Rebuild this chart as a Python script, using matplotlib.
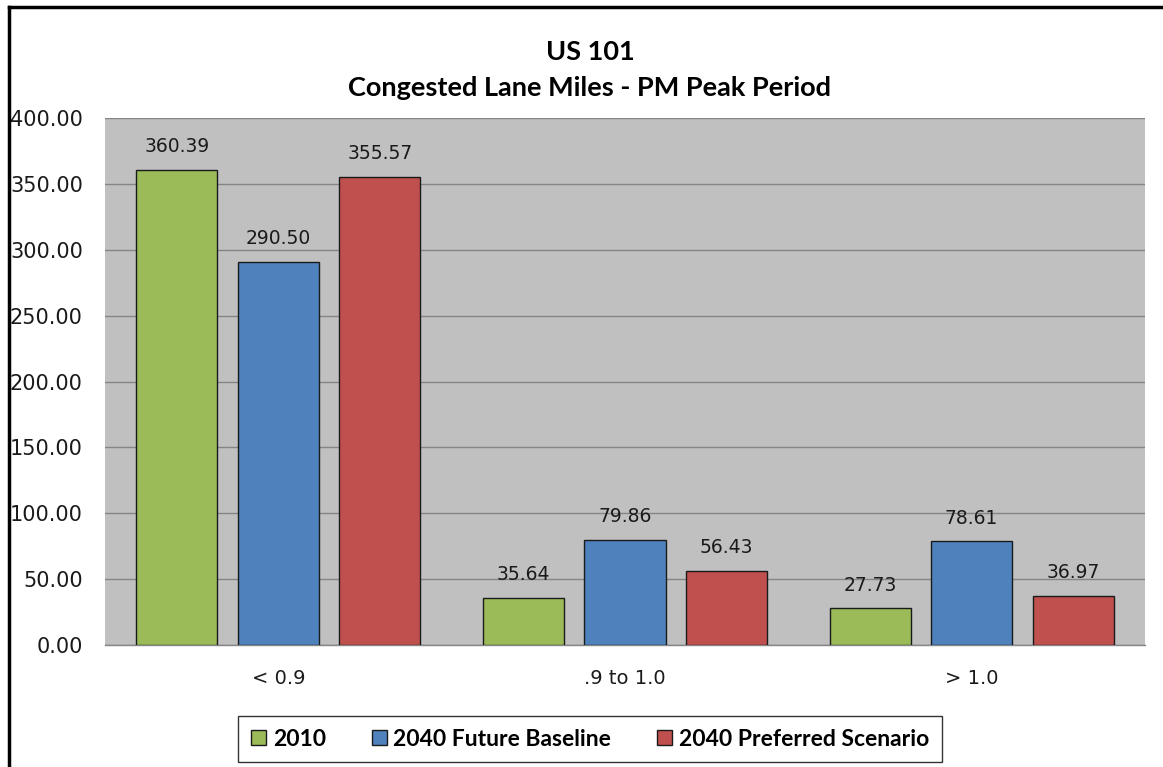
import matplotlib
matplotlib.use('Agg')
import matplotlib.pyplot as plt
import numpy as np
from matplotlib.lines import Line2D

# Data
categories = ['< 0.9', '.9 to 1.0', '> 1.0']
series_names = ['2010', '2040 Future Baseline', '2040 Preferred Scenario']
vals_2010 = [360.39, 35.64, 27.73]
vals_baseline = [290.50, 79.86, 78.61]
vals_preferred = [355.57, 56.43, 36.97]
colors = ['#9BBB59', '#4F81BD', '#C0504D']

fig = plt.figure(figsize=(11.63, 7.67), dpi=100, facecolor='white')
ax = fig.add_axes([105/1163, 122/767, 1040/1163, 527/767])
ax.set_facecolor('#C0C0C0')

x = np.arange(len(categories))
width = 0.234
step = 0.293
all_vals = [vals_2010, vals_baseline, vals_preferred]

for i, (vals, name, c) in enumerate(zip(all_vals, series_names, colors)):
    bars = ax.bar(x + (i - 1) * step, vals, width, color=c, edgecolor='#1a1a1a',
                  linewidth=1.0, label=name, zorder=3)
    for b, v in zip(bars, vals):
        ax.annotate(f'{v:.2f}', (b.get_x() + b.get_width() / 2, v),
                    xytext=(0, 10), textcoords='offset points',
                    ha='center', va='bottom', fontsize=13.5, color='#1a1a1a',
                    family='DejaVu Sans')

ax.set_xlim(-0.5, 2.5)
ax.set_ylim(0, 400)
ax.set_yticks(np.arange(0, 401, 50))
ax.set_yticklabels([f'{v:.2f}' for v in np.arange(0, 401, 50)], fontsize=15,
                   color='#1a1a1a')
ax.set_xticks(x)
ax.set_xticklabels(categories, fontsize=14, color='#1a1a1a')
ax.tick_params(axis='y', length=0, pad=16)
ax.tick_params(axis='x', length=0, pad=17)
ax.grid(axis='y', color='#858585', linewidth=1.0, zorder=0)
ax.set_axisbelow(True)
for s in ['top', 'right', 'left']:
    ax.spines[s].set_visible(False)
ax.spines['bottom'].set_color('#858585')
ax.spines['bottom'].set_linewidth(1.0)

# Title
fig.text(590/1163, 1 - 52/767, 'US 101', ha='center', va='center',
         fontsize=19.5, fontweight='bold', family='Lato')
fig.text(590/1163, 1 - 88/767, 'Congested Lane Miles - PM Peak Period', ha='center',
         va='center', fontsize=19.5, fontweight='bold', family='Lato')

# Legend
leg = fig.legend(loc='center', bbox_to_anchor=(590/1163, 1 - 739/767), ncol=3,
                 frameon=True, fancybox=False, handlelength=0.65, handleheight=0.65,
                 handletextpad=0.3, columnspacing=2.0, borderpad=0.55,
                 prop={'family': 'Lato', 'weight': 'bold', 'size': 16.5})
leg.get_frame().set_edgecolor('black')
leg.get_frame().set_linewidth(1.0)

# Outer border (left and top)
fig.add_artist(Line2D([9/1163, 9/1163], [0, 1 - 7/767], transform=fig.transFigure,
                      color='black', linewidth=2.5))
fig.add_artist(Line2D([9/1163, 1], [1 - 7/767, 1 - 7/767], transform=fig.transFigure,
                      color='black', linewidth=2.5))

fig.savefig('out.png', dpi=100, facecolor='white')
